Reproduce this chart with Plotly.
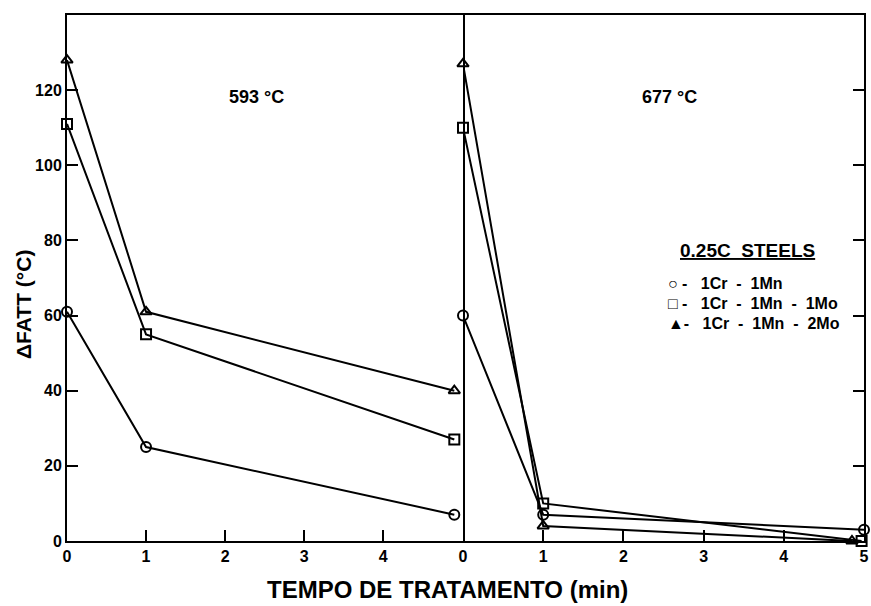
import plotly.graph_objects as go

# Data
# Left panel: 593 °C
t_593 = [0, 1, 4.9]
cr_mn_593 = [61, 25, 7]
cr_mn_1mo_593 = [111, 55, 27]
cr_mn_2mo_593 = [128, 61, 40]
# Right panel: 677 °C
t_677_circ = [0, 1, 5]
cr_mn_677 = [60, 7, 3]
t_677_sq = [0, 1, 4.97]
cr_mn_1mo_677 = [110, 10, 0]
t_677_tri = [0, 1, 4.85]
cr_mn_2mo_677 = [127, 4, 0]

y_ticks = [0, 20, 40, 60, 80, 100, 120]
x_ticks_left = [0, 1, 2, 3, 4]
x_ticks_right = [0, 1, 2, 3, 4, 5]

FONT = "Liberation Sans"
line_style = dict(color="black", width=2)

fig = go.Figure()
series = [
    (t_593, cr_mn_593, "circle-open", "x", "y"),
    (t_593, cr_mn_1mo_593, "square-open", "x", "y"),
    (t_593, cr_mn_2mo_593, "triangle-up-open", "x", "y"),
    (t_677_circ, cr_mn_677, "circle-open", "x2", "y2"),
    (t_677_sq, cr_mn_1mo_677, "square-open", "x2", "y2"),
    (t_677_tri, cr_mn_2mo_677, "triangle-up-open", "x2", "y2"),
]
for xs, ys, sym, xa, ya in series:
    fig.add_trace(go.Scatter(x=xs, y=ys, mode="lines+markers", line=line_style,
                             marker=dict(symbol=sym, size=10, color="black",
                                         line=dict(color="black", width=2)),
                             xaxis=xa, yaxis=ya, showlegend=False, cliponaxis=False))

split = 396 / 797
axis_common = dict(showgrid=False, zeroline=False, showline=True, linecolor="black",
                   linewidth=2, ticks="inside", ticklen=11, tickwidth=1.5, tickcolor="black",
                   automargin=False,
                   tickfont=dict(family=FONT, size=16, color="black", weight="bold"))

fig.update_layout(
    width=871, height=606,
    margin=dict(l=67, r=7, t=15, b=65),
    plot_bgcolor="white", paper_bgcolor="white",
    xaxis=dict(domain=[0, split], range=[0, 5.01], tickvals=x_ticks_left,
               mirror=True, anchor="y", **axis_common),
    xaxis2=dict(domain=[split, 1], range=[0, 5.0], tickvals=x_ticks_right,
                mirror=True, anchor="y2", **axis_common),
    yaxis=dict(range=[0, 140], tickvals=y_ticks, anchor="x", mirror=True, **axis_common),
    yaxis2=dict(range=[0, 140], tickvals=y_ticks, anchor="x2", side="right",
                mirror=False, showticklabels=False, matches="y", **axis_common),
)

def px(xp, yp):
    return (xp - 67) / 797, (541 - yp) / 526

def bold(size):
    return dict(family=FONT, size=size, color="black", weight="bold")

ann = []
x, y = px(256, 85)
ann.append(dict(text="593 °C", x=x, y=y, xanchor="center", font=bold(18)))
x, y = px(669, 85)
ann.append(dict(text="677 °C", x=x, y=y, xanchor="center", font=bold(18)))
x, y = px(747, 250)
ann.append(dict(text="<u>0.25C  STEELS</u>", x=x, y=y, xanchor="center", font=bold(19)))
legend_lines = ["○ -   1Cr  -  1Mn", "□ -   1Cr  -  1Mn  -  1Mo", "▲-   1Cr  -  1Mn  -  2Mo"]
for txt, yp in zip(legend_lines, [283, 303, 323]):
    x, y = px(666, yp)
    ann.append(dict(text=txt, x=x, y=y, xanchor="left", font=bold(16)))

x, y = px(447, 605)
ann.append(dict(text="TEMPO DE TRATAMENTO (min)", x=x, y=y, xanchor="center",
                yanchor="bottom", font=bold(24)))
x, y = px(24, 305)
ann.append(dict(text="ΔFATT (°C)", x=x, y=y, xanchor="center", textangle=-90, font=bold(21)))

for a in ann:
    a.update(xref="paper", yref="paper", showarrow=False)

fig.update_layout(annotations=ann)
fig.write_html("out.html", config={"displayModeBar": False},
               post_script="document.body.style.margin='0';")
